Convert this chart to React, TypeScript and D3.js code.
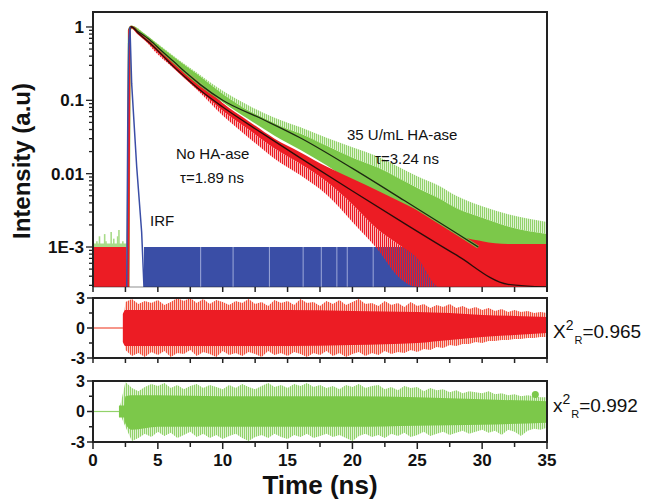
import React from 'react';
import * as d3 from 'd3';

// ---------- data ----------
// time axis (ns)
const xMajorTicks = [0, 5, 10, 15, 20, 25, 30, 35];
const xMinorTicks = [2.5, 7.5, 12.5, 17.5, 22.5, 27.5, 32.5];
const yTopTickLabels = ['1', '0.1', '0.01', '1E-3'];
const yTopTickValues = [1, 0.1, 0.01, 0.001];
const resTickValues = [-3, -1.5, 0, 1.5, 3];
const resTickLabels = ['-3', '', '0', '', '3'];

// fitted decays (intensity, a.u.)
const noHaFitT = [2.7, 2.8, 2.95, 3.5, 4.4, 5.3, 6.2, 7.2, 8.25, 10, 13, 16, 20, 24, 28, 32, 35];
const noHaFit = [0, 0.9, 1.0, 0.82, 0.6, 0.42, 0.29, 0.2, 0.138, 0.081, 0.036, 0.0163, 0.0058, 0.0021, 0.00078, 0.00031, 0.00017];
const haFitT = [2.7, 2.8, 2.95, 3.5, 4.4, 5.3, 6.2, 7.2, 8.25, 10, 13, 16, 20, 24, 28, 29.7];
const haFit = [0, 0.9, 1.0, 0.86, 0.66, 0.47, 0.34, 0.235, 0.165, 0.1, 0.056, 0.0306, 0.0118, 0.0043, 0.00155, 0.001];

// noisy data envelopes (dense part and spike tips)
const bandT = [2.7, 2.8, 3, 4, 5, 6.5, 8, 10, 12, 14, 16, 18, 20, 22, 23.5, 25, 26.7, 28, 30, 32, 35];
const noHaUpper = [0, 0.92, 1.02, 0.74, 0.5, 0.31, 0.19, 0.092, 0.052, 0.03, 0.0195, 0.0125, 0.0085, 0.0058, 0.0043, 0.0032, 0.0022, 0.0015, 0.0012, 0.0011, 0.0011];
const noHaLower = [0, 0.85, 0.96, 0.68, 0.44, 0.26, 0.15, 0.072, 0.04, 0.022, 0.0135, 0.0078, 0.0038, 0.0017, 0.0011, 0.0007, 0, 0, 0, 0, 0];
const noHaSpikeLower = [0, 0.84, 0.95, 0.66, 0.42, 0.25, 0.14, 0.062, 0.031, 0.016, 0.0095, 0.0052, 0.0022, 0.0009, 0.0004, 0, 0, 0, 0, 0, 0];
const haUpper = [0, 0.93, 1.03, 0.8, 0.58, 0.36, 0.23, 0.122, 0.072, 0.047, 0.035, 0.024, 0.0165, 0.012, 0.0088, 0.0064, 0.0046, 0.0034, 0.0025, 0.0019, 0.0015];
const haSpikeUpper = [0, 0.94, 1.04, 0.81, 0.59, 0.37, 0.24, 0.135, 0.085, 0.058, 0.043, 0.031, 0.023, 0.017, 0.0125, 0.0092, 0.0068, 0.005, 0.0036, 0.0028, 0.0022];
const haLower = [0, 0.86, 0.97, 0.74, 0.52, 0.31, 0.19, 0.095, 0.055, 0.033, 0.021, 0.013, 0.0075, 0.0045, 0.003, 0.002, 0.0013, 0.001, 0.001, 0.001, 0.001];

// pre-pulse background (counts floor)
const prePulseT = [0, 2.58];
const prePulseV = [0.001, 0.001];
const haPreFloorV = [0.00112, 0.00112];
const haPreSpikeT = [0.3, 0.5, 0.9, 1.0, 1.4, 1.6, 1.9, 2.0, 2.3];
const haPreSpikeV = [0.0012, 0.0014, 0.0015, 0.0012, 0.0016, 0.0013, 0.0014, 0.0017, 0.0012];

// instrument response
const irfT = [2.6, 2.68, 2.75, 2.85, 2.98, 3.37, 3.75, 3.93];
const irfV = [0, 0.05, 0.6, 1.0, 0.17, 0.0123, 0.0016, 0];
const irfFloorT = [3.93, 35];
const irfFloorV = [0.001, 0.001];
const irfGapT = [8.3, 10.8, 13.6, 16.2, 17.6, 18.8, 19.6, 21.6];

// residuals
const resT = [2.5, 3, 3.5, 4, 4.5, 5, 5.5, 6, 6.5, 7, 7.5, 8, 8.5, 9, 9.5, 10, 10.5, 11, 11.5, 12, 12.5, 13, 13.5, 14, 14.5, 15, 15.5, 16, 16.5, 17, 17.5, 18, 18.5, 19, 19.5, 20, 20.5, 21, 21.5, 22, 22.5, 23, 23.5, 24, 24.5, 25, 25.5, 26, 26.5, 27, 27.5, 28, 28.5, 29, 29.5, 30, 30.5, 31, 31.5, 32, 32.5, 33, 33.5, 34, 34.5, 35];
const noHaResUp = [2.6, 2.9, 2.4, 2.7, 2.5, 2.8, 2.3, 2.6, 3.0, 2.7, 3.0, 2.5, 2.9, 2.4, 2.8, 2.6, 2.3, 2.7, 2.5, 2.9, 2.4, 2.6, 2.2, 2.8, 2.5, 2.7, 2.3, 2.9, 2.5, 2.6, 2.2, 2.7, 2.4, 2.8, 2.3, 2.6, 2.9, 2.4, 2.5, 2.2, 2.7, 2.3, 2.5, 2.1, 2.6, 2.2, 2.4, 2.0, 2.3, 2.1, 2.4, 2.0, 2.2, 1.9, 2.1, 1.8, 2.0, 1.7, 1.9, 1.6, 1.8, 1.6, 1.7, 1.5, 1.6, 1.5];
const noHaResLo = [-2.2, -2.8, -2.5, -2.9, -2.4, -2.7, -2.3, -2.9, -2.5, -2.6, -2.2, -2.8, -2.4, -2.6, -2.9, -2.3, -2.7, -2.5, -2.8, -2.4, -2.6, -2.9, -2.3, -2.7, -2.5, -2.8, -2.4, -2.6, -2.9, -2.5, -2.7, -2.3, -2.8, -2.5, -2.9, -2.6, -2.4, -2.8, -2.5, -2.7, -2.3, -2.6, -2.4, -2.5, -2.2, -2.4, -2.1, -2.2, -1.9, -2.0, -1.7, -1.8, -1.6, -1.6, -1.4, -1.5, -1.3, -1.3, -1.2, -1.2, -1.1, -1.1, -1.0, -1.0, -0.9, -0.9];
const haResUp = [2.9, 2.3, 2.0, 2.4, 2.7, 2.5, 2.8, 2.3, 2.6, 2.2, 2.5, 2.7, 2.3, 2.6, 2.4, 2.2, 2.6, 2.3, 2.7, 2.4, 2.2, 2.5, 2.8, 2.4, 2.6, 2.3, 2.7, 2.5, 2.8, 2.4, 2.6, 2.3, 2.5, 2.2, 2.6, 2.4, 2.7, 2.3, 2.5, 2.6, 2.2, 2.4, 2.1, 2.5, 2.3, 2.4, 2.0, 2.3, 2.1, 2.2, 1.9, 2.1, 1.8, 2.0, 1.9, 1.8, 2.0, 1.7, 1.8, 1.6, 1.7, 1.5, 1.6, 1.5, 1.4, 1.4];
const haResLo = [-1.5, -2.9, -2.6, -2.2, -2.5, -2.0, -2.4, -2.1, -2.6, -2.3, -2.0, -2.5, -2.2, -2.6, -2.3, -2.7, -2.4, -2.2, -2.6, -2.9, -2.5, -2.3, -2.6, -2.2, -2.5, -2.7, -2.3, -2.5, -2.2, -2.6, -2.4, -2.2, -2.5, -2.3, -2.6, -2.9, -2.4, -2.2, -2.5, -2.3, -2.6, -2.2, -2.4, -2.1, -2.5, -2.3, -2.0, -2.4, -2.2, -2.0, -2.3, -2.1, -1.9, -2.2, -2.0, -1.8, -2.1, -1.9, -2.3, -1.8, -2.0, -2.4, -1.9, -1.7, -1.8, -1.6];
const noHaCoreT = [2.3, 2.5, 5, 10, 15, 20, 25, 27.5, 30, 32.5, 35];
const noHaCoreUp = [1.4, 1.8, 1.8, 1.8, 1.8, 1.7, 1.6, 1.5, 1.3, 1.2, 1.1];
const noHaCoreLo = [-1.4, -1.8, -1.8, -1.8, -1.8, -1.7, -1.5, -1.2, -0.9, -0.7, -0.5];
const haCoreT = [2.0, 2.4, 2.5, 3, 5, 10, 15, 20, 25, 30, 35];
const haCoreUp = [0.6, 0.6, 1.5, 1.6, 1.6, 1.5, 1.5, 1.5, 1.4, 1.2, 1.0];
const haCoreLo = [-0.6, -0.6, -1.2, -1.8, -1.5, -1.5, -1.5, -1.5, -1.4, -1.3, -1.1];
const noHaResStart = 2.3;
const haResStart = 2.0;
const haOutlierT = 34.1;
const haOutlierV = 1.67;

const chi1 = { sym: 'X', val: '=0.965' };
const chi2 = { sym: 'x', val: '=0.992' };

// ---------- layout ----------
const L = 93, R = 547;
const Y_MIN = 2.85e-4, Y_MAX = 1.6;
const FONT = '"Liberation Sans", Arial, Helvetica, sans-serif';
const RED = '#ec1c24';
const RED_L = '#f0503c';
const GREEN = '#7cc84a';
const GREEN_L = '#92d26a';
const BLUE = '#3a4ea6';
const AX = '#222';

const x = d3.scaleLinear().domain([0, 35]).range([L, R]);
const yTop = d3.scaleLog().domain([Y_MIN, Y_MAX]).range([287, 12]);
const yT = (v: number) => yTop(Math.max(v, Y_MIN));
const yR1 = d3.scaleLinear().domain([-3, 3]).range([358, 298]);
const yR2 = d3.scaleLinear().domain([-3, 3]).range([442, 381]);

function band(T: number[], lo: number[], hi: number[], fy: (v: number) => number, curve: any = d3.curveLinear) {
  return d3.area<number>()
    .x((_, i) => x(T[i]))
    .y0((_, i) => fy(lo[i]))
    .y1((_, i) => fy(hi[i]))
    .curve(curve)(T) as string;
}
function line(T: number[], V: number[], fy: (v: number) => number, curve: any = d3.curveLinear) {
  return d3.line<number>().x((_, i) => x(T[i])).y((_, i) => fy(V[i])).curve(curve)(T) as string;
}

function Stripes({ id, color }: { id: string; color: string }) {
  return (
    <pattern id={id} width={2} height={4} patternUnits="userSpaceOnUse">
      <rect x={0} y={0} width={1.3} height={4} fill={color} />
    </pattern>
  );
}

function ResidualPanel(props: {
  y: d3.ScaleLinear<number, number>; start: number; color: string; light: string;
  up: number[]; lo: number[]; coreT: number[]; coreUp: number[]; coreLo: number[];
  labels: boolean; id: string;
}) {
  const { y, start, color, light, up, lo, coreT, coreUp, coreLo, labels, id } = props;
  const top = y(3), bot = y(-3);
  return (
    <g>
      <defs>
        <clipPath id={id}><rect x={L} y={top} width={R - L} height={bot - top} /></clipPath>
        <Stripes id={id + 'p'} color={light} />
      </defs>
      <g clipPath={`url(#${id})`}>
        <line x1={x(0)} x2={x(start)} y1={y(0)} y2={y(0)} stroke={light} strokeWidth={1.2} />
        <path d={band([start, ...resT], [0, ...lo], [0, ...up], y)} fill={`url(#${id}p)`} />
        <path d={band(coreT, coreLo, coreUp, y, d3.curveMonotoneX)} fill={color} />
      </g>
      <rect x={L} y={top} width={R - L} height={bot - top} fill="none" stroke={AX} strokeWidth={2} />
      {resTickValues.map((v, i) => (
        <g key={'ry' + i}>
          <line x1={L - (resTickLabels[i] ? 6 : 4)} x2={L} y1={y(v)} y2={y(v)} stroke={AX} strokeWidth={1.5} />
          {resTickLabels[i] && (
            <text x={L - 8} y={y(v)} dy="0.36em" textAnchor="end" fontFamily={FONT} fontWeight="bold" fontSize={16} fill="#111">{resTickLabels[i]}</text>
          )}
        </g>
      ))}
      {[...xMajorTicks, ...xMinorTicks].map((t, i) => (
        <line key={'rx' + i} x1={x(t)} x2={x(t)} y1={bot} y2={bot + (labels && xMajorTicks.includes(t) ? 7 : 5)} stroke={AX} strokeWidth={1.5} />
      ))}
      {labels && xMajorTicks.map((t) => (
        <text key={'xl' + t} x={x(t)} y={466} textAnchor="middle" fontFamily={FONT} fontWeight="bold" fontSize={17} fill="#111">{t}</text>
      ))}
    </g>
  );
}

export default function App() {
  const logTicks = yTop.ticks().filter((v) => v >= Y_MIN && v <= Y_MAX);
  const major = (v: number) => yTopTickValues.some((m) => Math.abs(m - v) / m < 1e-6);
  return (
    <svg width={649} height={501} style={{ position: 'absolute', left: 0, top: 0, background: '#fff' }}>
      <defs>
        <clipPath id="topClip"><rect x={L} y={12} width={R - L} height={275} /></clipPath>
        <Stripes id="gStripe" color={GREEN_L} />
        <Stripes id="rStripe" color={RED} />
      </defs>
      <rect x={0} y={0} width={649} height={501} fill="#fff" />

      {/* ---------- top decay panel ---------- */}
      <g clipPath="url(#topClip)">
        <path d={band(prePulseT, prePulseV, haPreFloorV, yT)} fill="#a8db88" />
        {haPreSpikeT.map((t, i) => (
          <line key={'gs' + i} x1={x(t)} x2={x(t)} y1={yT(0.001)} y2={yT(haPreSpikeV[i])} stroke="#a8db88" strokeWidth={1.6} />
        ))}
        <path d={band(bandT, haUpper, haSpikeUpper, yT, d3.curveMonotoneX)} fill="url(#gStripe)" />
        <path d={band(bandT, haLower, haUpper, yT, d3.curveMonotoneX)} fill={GREEN} />
        <path d={band(irfFloorT, [0, 0], irfFloorV, yT)} fill={BLUE} />
        {irfGapT.map((t, i) => (
          <line key={'gap' + i} x1={x(t)} x2={x(t)} y1={yT(0.001)} y2={yT(0)} stroke="#b8c0e6" strokeWidth={0.8} />
        ))}
        <path d={band(bandT, noHaSpikeLower, noHaLower, yT, d3.curveMonotoneX)} fill="url(#rStripe)" />
        <path d={band(bandT, noHaLower, noHaUpper, yT, d3.curveMonotoneX)} fill={RED} />
        <path d={band(prePulseT, [0, 0], prePulseV, yT)} fill={RED} />
        <path d={line(haFitT, haFit, yT, d3.curveMonotoneX)} fill="none" stroke={GREEN} strokeWidth={3} />
        <path d={line(noHaFitT, noHaFit, yT, d3.curveMonotoneX)} fill="none" stroke={RED} strokeWidth={2.5} />
        <path d={line(haFitT.slice(1), haFit.slice(1), yT, d3.curveMonotoneX)} fill="none" stroke="#1d2a12" strokeWidth={1.3} />
        <path d={line(noHaFitT.slice(1), noHaFit.slice(1), yT, d3.curveMonotoneX)} fill="none" stroke="#2a0d0a" strokeWidth={1.3} />
        <path d={line(irfT, irfV, yT)} fill="none" stroke={BLUE} strokeWidth={1.5} />
      </g>
      {/* frame */}
      <path d={`M${L},287 L${L},12 L${R},12 L${R},292`} fill="none" stroke={AX} strokeWidth={2} />
      <line x1={L} x2={R} y1={287} y2={287} stroke={AX} strokeWidth={1} strokeOpacity={0.5} />
      {logTicks.map((v, i) => (
        <line key={'lt' + i} x1={L - (major(v) ? 7 : 4)} x2={L} y1={yTop(v)} y2={yTop(v)} stroke={AX} strokeWidth={1.3} />
      ))}
      {yTopTickValues.map((v, i) => (
        <text key={'yl' + i} x={84} y={yTop(v)} dy="0.36em" textAnchor="end" fontFamily={FONT} fontWeight="bold" fontSize={17} fill="#111">{yTopTickLabels[i]}</text>
      ))}
      {[...xMajorTicks, ...xMinorTicks].map((t, i) => (
        <line key={'tx' + i} x1={x(t)} x2={x(t)} y1={287} y2={292} stroke={AX} strokeWidth={1.5} />
      ))}

      {/* annotations */}
      <g fontFamily={FONT} fontSize={15} fill="#111">
        <text x={150} y={226}>IRF</text>
        <text x={176} y={159}>No HA-ase</text>
        <text x={180} y={183}>τ=1.89 ns</text>
        <text x={347} y={140}>35 U/mL HA-ase</text>
        <text x={375} y={164}>τ=3.24 ns</text>
      </g>

      {/* ---------- residual panels ---------- */}
      <ResidualPanel id="r1" y={yR1} start={noHaResStart} color={RED} light={RED_L} up={noHaResUp} lo={noHaResLo}
        coreT={noHaCoreT} coreUp={noHaCoreUp} coreLo={noHaCoreLo} labels={false} />
      <ResidualPanel id="r2" y={yR2} start={haResStart} color={GREEN} light={GREEN_L} up={haResUp} lo={haResLo}
        coreT={haCoreT} coreUp={haCoreUp} coreLo={haCoreLo} labels={true} />
      <circle cx={x(haOutlierT)} cy={yR2(haOutlierV)} r={3.5} fill={GREEN} />

      {/* chi-square labels */}
      <text x={553} y={338} fontFamily={FONT} fontSize={19} fill="#111">
        {chi1.sym}<tspan fontSize={14} dy={-8}>2</tspan><tspan fontSize={11} dy={14} dx={1}>R</tspan><tspan dy={-6}>{chi1.val}</tspan>
      </text>
      <text x={553} y={412} fontFamily={FONT} fontSize={19} fill="#111">
        {chi2.sym}<tspan fontSize={14} dy={-8}>2</tspan><tspan fontSize={11} dy={14} dx={1}>R</tspan><tspan dy={-6}>{chi2.val}</tspan>
      </text>

      {/* axis titles */}
      <text transform="translate(30,161) rotate(-90)" textAnchor="middle" fontFamily={FONT} fontWeight="bold" fontSize={24} fill="#111">Intensity (a.u)</text>
      <text x={320} y={494} textAnchor="middle" fontFamily={FONT} fontWeight="bold" fontSize={26} fill="#111">Time (ns)</text>
    </svg>
  );
}
